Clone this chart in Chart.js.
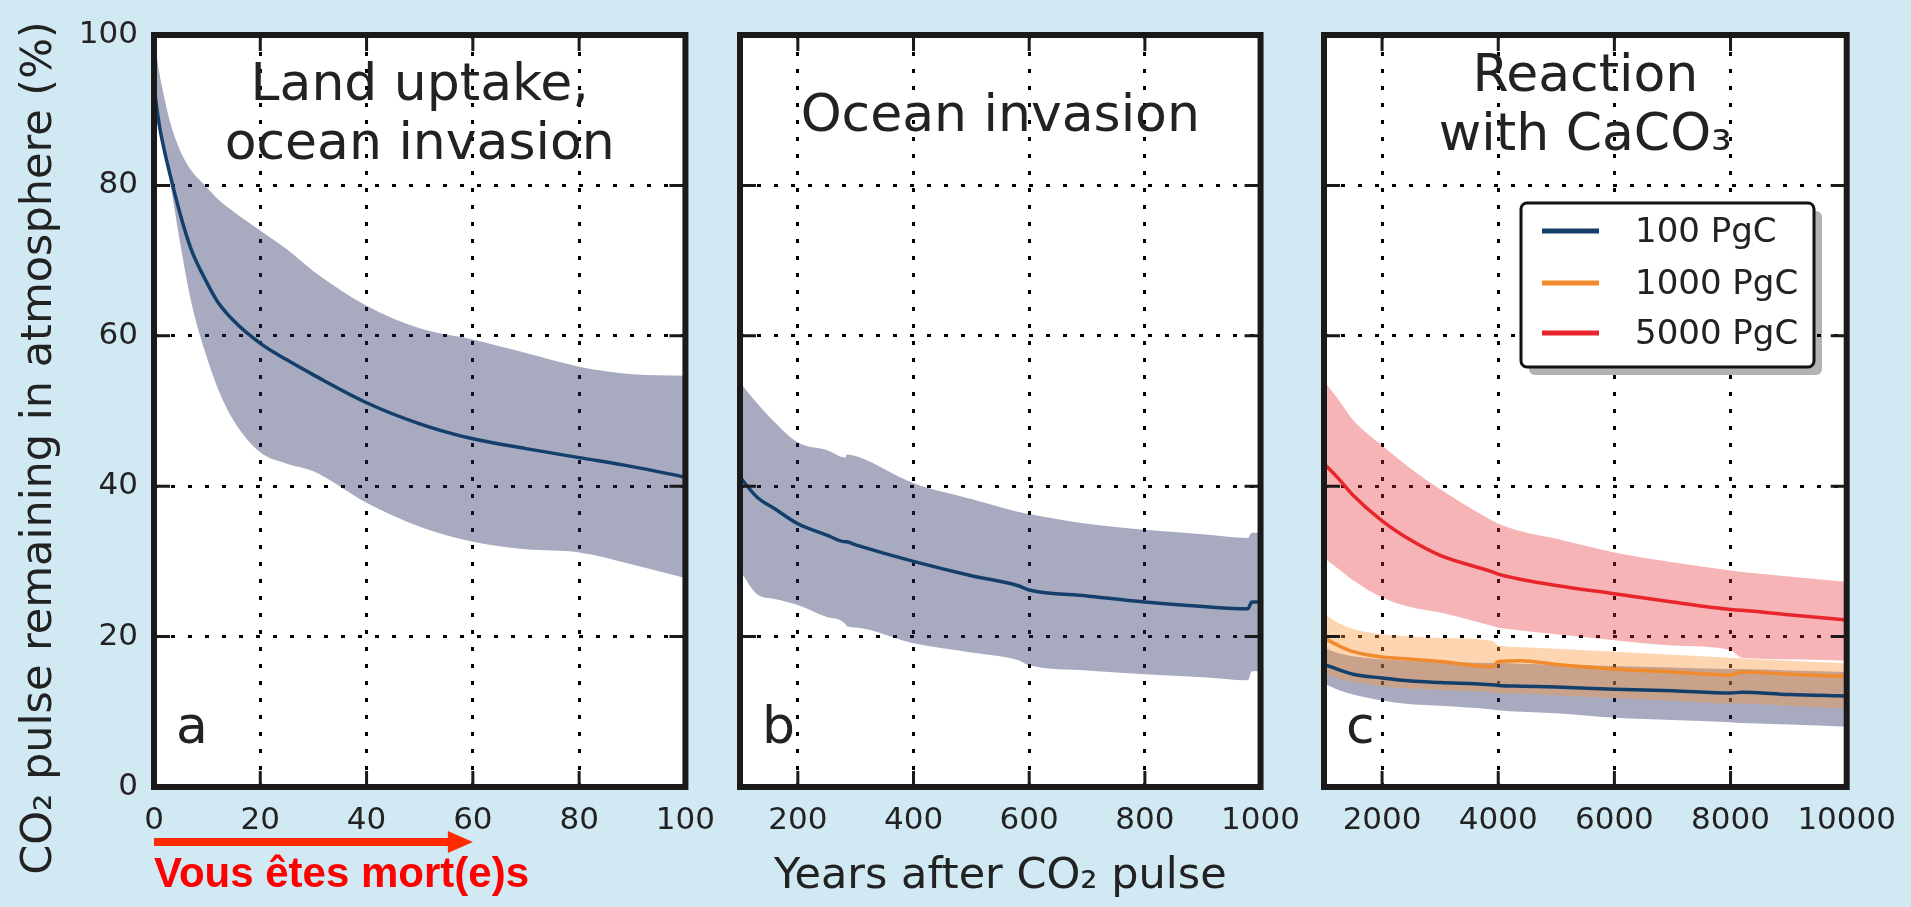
<!DOCTYPE html>
<html>
<head>
<meta charset="utf-8">
<script src="https://cdn.jsdelivr.net/npm/chart.js@4.4.1/dist/chart.umd.min.js"></script>
<style>
  html, body { margin: 0; padding: 0; background: #d1e9f3; }
  #wrap { position: relative; width: 1911px; height: 907px; overflow: hidden; }
  canvas { position: absolute; top: 0; }
</style>
</head>
<body>
<div id="wrap">
  <canvas id="panelA" width="730" height="907" style="left:0px;width:730px;height:907px"></canvas>
  <canvas id="panelB" width="600" height="907" style="left:715px;width:600px;height:907px"></canvas>
  <canvas id="panelC" width="611" height="907" style="left:1300px;width:611px;height:907px"></canvas>
</div>
<script>
// panel a : first century
const yearsA = [0, 1, 2, 3, 5, 7, 10, 12, 15, 20, 25, 30, 40, 50, 60, 70, 80, 90, 100];
const meanA  = [93, 88, 84.5, 81.5, 76, 71.5, 67, 64.5, 62, 59, 56.8, 54.8, 51.1, 48.3, 46.3, 45, 43.8, 42.6, 41.2];
const upperA = [100, 95, 91.5, 88.5, 84.5, 82, 79.7, 78.2, 76.5, 74, 71.5, 68.6, 64, 61, 59.5, 57.7, 55.9, 54.9, 54.7];
const lowerA = [92, 87.5, 84, 80.5, 72, 64.5, 57, 53, 48.7, 44.5, 43, 42, 37.8, 34.6, 32.6, 31.6, 31.2, 29.6, 27.8];

// panel b : 100 - 1000 years
const yearsB = [100, 130, 160, 200, 250, 283, 284, 300, 400, 500, 580, 600, 700, 800, 900, 978, 985, 1000];
const meanB  = [41.2, 38.5, 37, 35, 33.5, 32.6, 32.6, 32.2, 30, 28.1, 26.8, 26.2, 25.4, 24.6, 24, 23.7, 24.6, 24.6];
const upperB = [53.8, 51, 48.5, 45.8, 44.8, 43.8, 44.2, 44, 40.4, 38.3, 36.6, 36.3, 35, 34.2, 33.6, 33.1, 33.8, 33.8];
const lowerB = [28.8, 25.6, 25, 24.2, 22.6, 21.6, 21.4, 21.2, 19.1, 17.9, 16.9, 16.2, 15.5, 15, 14.6, 14.2, 15.4, 15.4];

// panel c : 1000 - 10000 years, three pulse sizes
const yearsC    = [1000, 1250, 1500, 2000, 2500, 3000, 3900, 4000, 4400, 5000, 6000, 7000, 8000, 8200, 9000, 10000];
const mean100   = [16.3, 15.6, 15, 14.5, 14.1, 13.9, 13.6, 13.5, 13.4, 13.3, 13, 12.8, 12.5, 12.6, 12.3, 12.1];
const upper100  = [18.5, 17.8, 17.4, 17, 16.8, 16.7, 16.5, 16.5, 16.4, 16.3, 16.1, 15.9, 15.7, 15.7, 15.5, 15.3];
const lower100  = [13.8, 12.9, 12.3, 11.5, 11, 10.8, 10.3, 10.2, 10, 9.8, 9.2, 8.9, 8.6, 8.5, 8.3, 8];
const mean1000  = [19.8, 18.8, 18, 17.3, 17, 16.7, 16, 16.7, 16.8, 16.3, 15.7, 15.3, 14.9, 15.3, 15, 14.7];
const upper1000 = [23, 21.8, 21, 20.3, 20, 19.8, 19.4, 18.8, 18.6, 18.4, 18, 17.6, 17.2, 17.1, 16.8, 16.5];
const lower1000 = [15.1, 14.4, 14, 13.4, 13.1, 12.9, 12.6, 12.5, 12.4, 12.2, 11.8, 11.5, 11.1, 11.1, 10.8, 10.4];
const mean5000  = [43, 41, 38.8, 35.4, 32.8, 30.8, 28.6, 28.3, 27.6, 26.8, 25.7, 24.6, 23.6, 23.5, 22.9, 22.2];
const upper5000 = [54, 51.5, 48.8, 45.4, 42.3, 39.6, 35.4, 35, 34, 33, 31.2, 29.9, 28.8, 28.6, 28, 27.3];
const lower5000 = [30.5, 29, 27.5, 25.2, 23.9, 23.2, 21.4, 21.2, 20.8, 20.3, 19.5, 18.8, 18.2, 17.2, 17, 16.8];

const ticksY = [0, 20, 40, 60, 80, 100];
const ticksA = [0, 20, 40, 60, 80, 100];
const ticksB = [200, 400, 600, 800, 1000];
const ticksC = [2000, 4000, 6000, 8000, 10000];
const pulseLabels = ['100 PgC', '1000 PgC', '5000 PgC'];

const NAVY = '#143f6b';
const ORANGE = '#f08a2c';
const RED = '#e8252b';
const BAND_BLUE = 'rgba(38,45,98,0.4)';
const BAND_ORANGE = 'rgba(250,150,60,0.4)';
const BAND_RED = 'rgba(230,40,50,0.35)';
const INK = '#222';
const TICK_FONT = "'DejaVu Sans', sans-serif";

function pts(xs, ys) {
  return xs.map((x, i) => ({ x: x, y: ys[i] }));
}

function meanLine(xs, ys, color, label) {
  return {
    label: label,
    data: pts(xs, ys),
    borderColor: color,
    borderWidth: 3.5,
    pointRadius: 0,
    fill: false,
    cubicInterpolationMode: 'monotone'
  };
}

// upper edge filled down to the lower edge that follows it
function band(xs, up, low, color) {
  return [
    { data: pts(xs, up), borderWidth: 0, pointRadius: 0, backgroundColor: color, fill: '+1', cubicInterpolationMode: 'monotone' },
    { data: pts(xs, low), borderWidth: 0, pointRadius: 0, fill: false, cubicInterpolationMode: 'monotone' }
  ];
}

const panelDeco = {
  id: 'panelDeco',
  beforeDraw(chart) {
    const a = chart.chartArea;
    chart.ctx.save();
    chart.ctx.fillStyle = '#fff';
    chart.ctx.fillRect(a.left, a.top, a.right - a.left, a.bottom - a.top);
    chart.ctx.restore();
  },
  afterDraw(chart, args, opts) {
    const ctx = chart.ctx;
    const a = chart.chartArea;
    const xs = chart.scales.x;
    const ys = chart.scales.y;
    ctx.save();

    // ticks pointing inwards on all four sides
    ctx.strokeStyle = '#1a1a1a';
    ctx.lineWidth = 3;
    ctx.beginPath();
    xs.ticks.forEach(t => {
      const px = xs.getPixelForValue(t.value);
      if (px < a.left + 4 || px > a.right - 4) return;
      ctx.moveTo(px, a.bottom); ctx.lineTo(px, a.bottom - 16);
      ctx.moveTo(px, a.top); ctx.lineTo(px, a.top + 16);
    });
    ys.ticks.forEach(t => {
      const py = ys.getPixelForValue(t.value);
      if (py < a.top + 4 || py > a.bottom - 4) return;
      ctx.moveTo(a.left, py); ctx.lineTo(a.left + 16, py);
      ctx.moveTo(a.right, py); ctx.lineTo(a.right - 16, py);
    });
    ctx.stroke();

    ctx.lineWidth = 6;
    ctx.strokeRect(a.left, a.top, a.right - a.left, a.bottom - a.top);

    // panel title and letter
    ctx.fillStyle = INK;
    ctx.font = "52px 'DejaVu Sans'";
    ctx.textAlign = 'center';
    ctx.textBaseline = 'alphabetic';
    const cx = (a.left + a.right) / 2;
    opts.title.forEach((line, i) => {
      ctx.fillText(line, cx, a.top + opts.titleTop + i * 59);
    });
    ctx.textAlign = 'left';
    ctx.fillText(opts.letter, a.left + 22, a.bottom - 44);

    if (opts.legend) {
      const lx = a.left + 197, ly = a.top + 168, lw = 293, lh = 164;
      ctx.fillStyle = 'rgba(0,0,0,0.3)';
      ctx.beginPath();
      ctx.roundRect(lx + 8, ly + 8, lw, lh, 6);
      ctx.fill();
      ctx.fillStyle = '#fff';
      ctx.strokeStyle = '#111';
      ctx.lineWidth = 3;
      ctx.beginPath();
      ctx.roundRect(lx, ly, lw, lh, 6);
      ctx.fill();
      ctx.stroke();
      const rows = [28, 80, 130];
      const shown = chart.data.datasets.filter(d => d.label);
      ctx.font = "34px 'DejaVu Sans'";
      ctx.textBaseline = 'middle';
      shown.forEach((d, i) => {
        const ry = ly + rows[i];
        ctx.strokeStyle = d.borderColor;
        ctx.lineWidth = 5;
        ctx.beginPath();
        ctx.moveTo(lx + 21, ry);
        ctx.lineTo(lx + 78, ry);
        ctx.stroke();
        ctx.fillStyle = INK;
        ctx.fillText(d.label, lx + 114, ry + 2);
      });
    }

    if (opts.yTitle) {
      ctx.save();
      ctx.translate(51, 448);
      ctx.rotate(-Math.PI / 2);
      ctx.font = "43px 'DejaVu Sans'";
      ctx.fillStyle = INK;
      ctx.textAlign = 'center';
      ctx.textBaseline = 'alphabetic';
      ctx.fillText(opts.yTitle, 0, 0);
      ctx.restore();
    }

    if (opts.arrow) {
      const x0 = xs.getPixelForValue(opts.arrow[0]);
      const x1 = xs.getPixelForValue(opts.arrow[1]);
      const y = 842;
      ctx.fillStyle = '#ff2a00';
      ctx.fillRect(x0, y - 4, x1 - x0 - 24, 8);
      ctx.beginPath();
      ctx.moveTo(x1 - 25, y - 11);
      ctx.lineTo(x1, y);
      ctx.lineTo(x1 - 25, y + 11);
      ctx.closePath();
      ctx.fill();
      ctx.fillStyle = '#ff0000';
      ctx.font = "bold 42px 'Liberation Sans', Arial, sans-serif";
      ctx.textAlign = 'left';
      ctx.textBaseline = 'alphabetic';
      ctx.fillText(opts.arrowText, x0, 887);
    }
    ctx.restore();
  }
};

function makePanel(id, datasets, o) {
  const xTitle = o.xTitle
    ? { display: true, text: o.xTitle, color: INK, font: { family: 'DejaVu Sans', size: 43, lineHeight: 1 }, padding: { top: 0, bottom: 9 } }
    : { display: false };
  new Chart(document.getElementById(id), {
    type: 'line',
    data: { datasets: datasets },
    options: {
      responsive: false,
      animation: false,
      events: [],
      layout: { padding: o.padding },
      plugins: {
        legend: { display: false },
        tooltip: { enabled: false },
        panelDeco: o.deco
      },
      scales: {
        x: {
          type: 'linear',
          min: o.xMin,
          max: o.xMax,
          afterBuildTicks: s => { s.ticks = o.xTicks.map(v => ({ value: v })); },
          afterFit: s => { s.height = 120; },
          ticks: {
            callback: v => String(v),
            color: INK,
            font: { family: TICK_FONT, size: 31 },
            padding: 15,
            maxRotation: 0,
            autoSkip: false
          },
          grid: { color: '#000', lineWidth: 3, drawTicks: false },
          border: { display: false, dash: [4, 13] },
          title: xTitle
        },
        y: {
          min: 0,
          max: 100,
          afterBuildTicks: s => { s.ticks = ticksY.map(v => ({ value: v })); },
          afterFit: s => { s.width = o.yWidth; },
          ticks: {
            display: o.yLabels,
            callback: v => String(v),
            color: INK,
            font: { family: TICK_FONT, size: 31 },
            padding: 16
          },
          grid: { color: '#000', lineWidth: 3, drawTicks: false },
          border: { display: false, dash: [4, 13] }
        }
      }
    },
    plugins: [panelDeco]
  });
}

makePanel('panelA',
  [meanLine(yearsA, meanA, NAVY)].concat(band(yearsA, upperA, lowerA, BAND_BLUE)),
  {
    padding: { left: 0, top: 35, right: 43, bottom: 0 },
    xMin: 0, xMax: 100, xTicks: ticksA, yWidth: 154, yLabels: true,
    deco: {
      title: ['Land uptake,', 'ocean invasion'], titleTop: 65, letter: 'a',
      yTitle: 'CO₂ pulse remaining in atmosphere (%)',
      arrow: [0, 60], arrowText: 'Vous êtes mort(e)s'
    }
  });

makePanel('panelB',
  [meanLine(yearsB, meanB, NAVY)].concat(band(yearsB, upperB, lowerB, BAND_BLUE)),
  {
    padding: { left: 25, top: 35, right: 44, bottom: 0 },
    xMin: 100, xMax: 1000, xTicks: ticksB, yWidth: 0, yLabels: false,
    xTitle: 'Years after CO₂ pulse',
    deco: { title: ['Ocean invasion'], titleTop: 96, letter: 'b' }
  });

makePanel('panelC',
  [
    meanLine(yearsC, mean100, NAVY, pulseLabels[0]),
    meanLine(yearsC, mean1000, ORANGE, pulseLabels[1]),
    meanLine(yearsC, mean5000, RED, pulseLabels[2])
  ]
    .concat(band(yearsC, upper5000, lower5000, BAND_RED))
    .concat(band(yearsC, upper1000, lower1000, BAND_ORANGE))
    .concat(band(yearsC, upper100, lower100, BAND_BLUE)),
  {
    padding: { left: 24, top: 35, right: 55, bottom: 0 },
    xMin: 1000, xMax: 10000, xTicks: ticksC, yWidth: 0, yLabels: false,
    deco: { title: ['Reaction', 'with CaCO₃'], titleTop: 56, letter: 'c', legend: true }
  });
</script>
</body>
</html>
